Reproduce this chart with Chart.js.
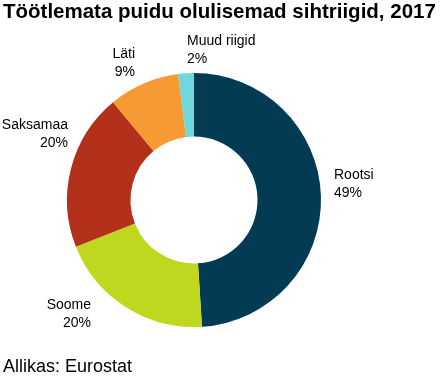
<!DOCTYPE html>
<html>
<head>
<meta charset="utf-8">
<script src="https://cdn.jsdelivr.net/npm/chart.js@4/dist/chart.umd.min.js"></script>
<style>
  html, body { margin: 0; padding: 0; background: #fff; }
  #wrap { position: relative; width: 447px; height: 378px; overflow: hidden; }
  #title { position: absolute; left: 3px; top: -1px; font: bold 20.5px "Liberation Sans", Arial, sans-serif; color: #000; white-space: nowrap; }
  #source { position: absolute; left: 3px; top: 356px; font: 18px "Liberation Sans", Arial, sans-serif; color: #000; white-space: nowrap; }
  canvas { position: absolute; left: 0; top: 0; }
</style>
</head>
<body>
<div id="wrap">
  <canvas id="c" width="447" height="378"></canvas>
  <div id="title">Töötlemata puidu olulisemad sihtriigid, 2017</div>
  <div id="source">Allikas: Eurostat</div>
</div>
<script>
const categories = ["Rootsi", "Soome", "Saksamaa", "Läti", "Muud riigid"];
const shares = [49, 20, 20, 9, 2];
const sliceColors = ["#033b54", "#c0d71f", "#b3311a", "#f89a34", "#6fd8dc"];

// label layout: offset of the text anchor from the doughnut centre, and alignment
const labelLayout = [
  { dx: 140, dy: -21, align: "left" },
  { dx: -103, dy: 109, align: "right" },
  { dx: -126, dy: -71, align: "right" },
  { dx: -59, dy: -142, align: "right" },
  { dx: -7, dy: -155, align: "left" }
];

const labelPlugin = {
  id: "sliceLabels",
  afterDatasetsDraw(chart) {
    const ctx = chart.ctx;
    const meta = chart.getDatasetMeta(0);
    ctx.save();
    ctx.font = '14px "Liberation Sans", Arial, sans-serif';
    ctx.fillStyle = "#000";
    ctx.textBaseline = "alphabetic";
    meta.data.forEach((arc, i) => {
      const L = labelLayout[i];
      const x = arc.x + L.dx;
      const y = arc.y + L.dy;
      ctx.textAlign = L.align;
      ctx.fillText(categories[i], x, y);
      ctx.fillText(shares[i] + "%", x, y + 18);
    });
    ctx.restore();
  }
};

new Chart(document.getElementById("c"), {
  type: "doughnut",
  data: {
    labels: categories,
    datasets: [{
      data: shares,
      backgroundColor: sliceColors,
      borderWidth: 0,
      hoverOffset: 0
    }]
  },
  options: {
    responsive: false,
    animation: false,
    cutout: "50%",
    layout: { padding: { left: 67, right: 126, top: 73, bottom: 51 } },
    plugins: {
      legend: { display: false },
      tooltip: { enabled: false },
      title: { display: false }
    }
  },
  plugins: [labelPlugin]
});
</script>
</body>
</html>
